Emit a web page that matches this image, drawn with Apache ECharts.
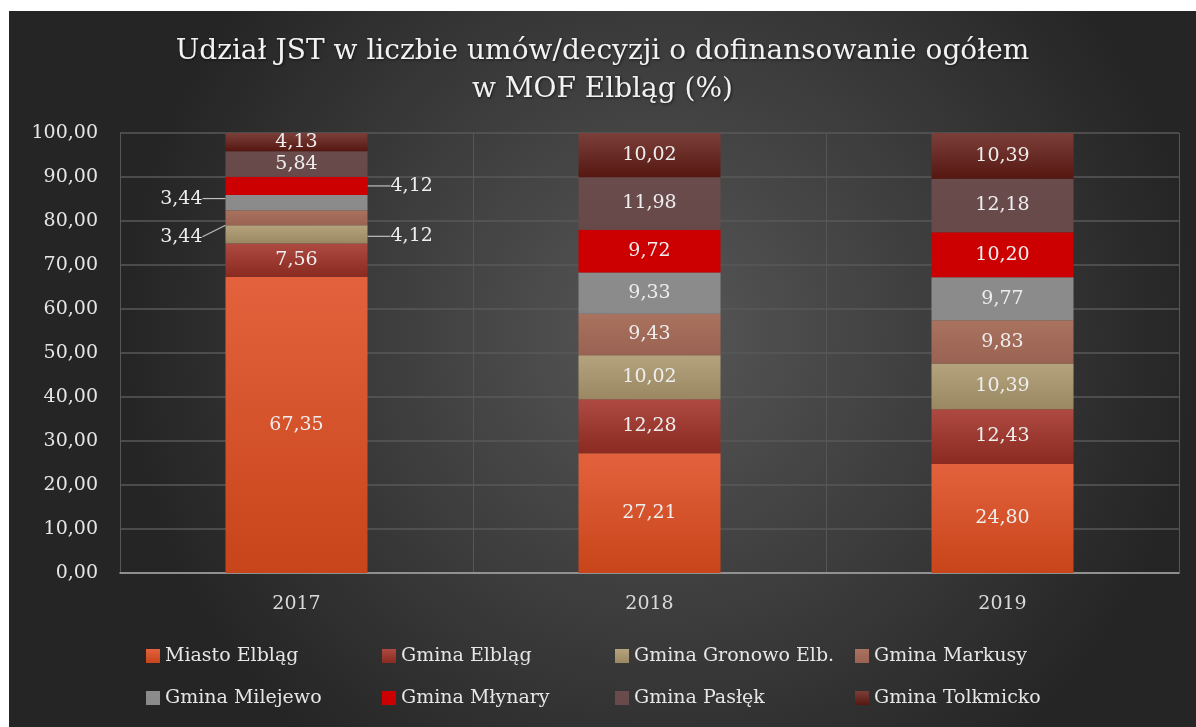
<!DOCTYPE html>
<html>
<head>
<meta charset="utf-8">
<script src="https://cdn.jsdelivr.net/npm/echarts@6/dist/echarts.min.js"></script>
<style>
html,body{margin:0;padding:0;background:#fff;}
#chart{position:absolute;left:9px;top:11px;width:1187px;height:716px;}
</style>
</head>
<body>
<div id="chart"></div>
<script>
var years = ["2017","2018","2019"];
var names = ["Miasto Elbląg","Gmina Elbląg","Gmina Gronowo Elb.","Gmina Markusy",
             "Gmina Milejewo","Gmina Młynary","Gmina Pasłęk","Gmina Tolkmicko"];
var miastoElblag = [67.35, 27.21, 24.80];
var gminaElblag = [7.56, 12.28, 12.43];
var gronowo = [4.12, 10.02, 10.39];
var markusy = [3.44, 9.43, 9.83];
var milejewo = [3.44, 9.33, 9.77];
var mlynary = [4.12, 9.72, 10.20];
var paslek = [5.84, 11.98, 12.18];
var tolkmicko = [4.13, 10.02, 10.39];
var yTicks = [0,10,20,30,40,50,60,70,80,90,100];

var allValues = [miastoElblag, gminaElblag, gronowo, markusy, milejewo, mlynary, paslek, tolkmicko];

/*kolory segmentów (góra, dół)*/
var colors = [
    ["#e3623d","#c8441a"],
    ["#ae4a42","#8a2a20"],
    ["#b5a37e","#9a8862"],
    ["#a9735f","#9a6252"],
    ["#8c8c8c","#8a8a8a"],
    ["#cc0000","#cc0000"],
    ["#6a4c4c","#674949"],
    ["#7b3f39","#561711"]
];

function fmt(v){
    return v.toFixed(2).replace(".", ",");
}

/*etykiety poza słupkiem dla 2017*/
var outside = {
    2: {pos:"right", dy:2},
    3: {pos:"left", dy:19},
    4: {pos:"left", dy:-4},
    5: {pos:"right", dy:0}
};

var series = [];
for (var i = 0; i < names.length; i++) {
    var data = [];
    for (var j = 0; j < years.length; j++) {
        var item = {value: allValues[i][j]};
        if (j == 0 && outside[i]) {
            item.label = {position: outside[i].pos, distance: 23};
            item.labelLine = {show: true, lineStyle: {color: "#bfbfbf", width: 1.2}};
        }
        data.push(item);
    }
    (function(idx){
        series.push({
            name: names[idx],
            type: "bar",
            stack: "total",
            barWidth: 142,
            data: data,
            itemStyle: {
                color: new echarts.graphic.LinearGradient(0,0,0,1,[
                    {offset:0, color: colors[idx][0]},
                    {offset:1, color: colors[idx][1]}
                ])
            },
            label: {
                show: true,
                position: "inside",
                color: "#eeeeee",
                fontFamily: "DejaVu Serif",
                fontSize: 19,
                formatter: function(p){ return fmt(p.value); }
            },
            labelLine: {show: false},
            labelLayout: function(p){
                if (p.dataIndex == 0 && outside[idx]) {
                    return {dy: outside[idx].dy};
                }
                return {};
            },
            emphasis: {disabled: true}
        });
    })(i);
}

var legends = [];
var legendCols = [137, 373, 606, 846];
for (var c = 0; c < 4; c++) {
    legends.push({
        orient: "vertical",
        left: legendCols[c],
        top: 634,
        padding: 0,
        itemGap: 20,
        itemWidth: 14,
        itemHeight: 14,
        icon: "rect",
        data: [names[c], names[c + 4]],
        textStyle: {
            color: "#e6e6e6",
            fontFamily: "DejaVu Serif",
            fontSize: 19,
            lineHeight: 22
        }
    });
}

var chart = echarts.init(document.getElementById("chart"));
var option = {
    animation: false,
    backgroundColor: new echarts.graphic.RadialGradient(0.55, 0.45, 0.75, [
        {offset:0, color:"#575757"},
        {offset:1, color:"#252525"}
    ]),
    title: {
        text: "Udział JST w liczbie umów/decyzji o dofinansowanie ogółem\nw MOF Elbląg (%)",
        left: "center",
        top: 17,
        textStyle: {
            color: "#f2f2f2",
            fontFamily: "DejaVu Serif",
            fontWeight: "normal",
            fontSize: 28,
            lineHeight: 38,
            textShadowColor: "rgba(0,0,0,0.6)",
            textShadowBlur: 3,
            textShadowOffsetX: 1,
            textShadowOffsetY: 1
        }
    },
    legend: legends,
    grid: {left: 111, right: 17, top: 122, bottom: 154},
    xAxis: {
        type: "category",
        data: years,
        axisLine: {lineStyle: {color: "#a6a6a6", width: 1.5}},
        axisTick: {show: false},
        splitLine: {show: true, lineStyle: {color: "#565656", width: 1}},
        axisLabel: {
            color: "#d9d9d9",
            fontFamily: "DejaVu Serif",
            fontSize: 19,
            margin: 22
        }
    },
    yAxis: {
        type: "value",
        min: yTicks[0],
        max: yTicks[yTicks.length - 1],
        interval: yTicks[1] - yTicks[0],
        axisLine: {show: false},
        axisTick: {show: false},
        splitLine: {lineStyle: {color: "#595959", width: 1.5}},
        axisLabel: {
            color: "#e6e6e6",
            fontFamily: "DejaVu Serif",
            fontSize: 19,
            margin: 22,
            formatter: function(v){ return fmt(v); }
        }
    },
    series: series
};
chart.setOption(option);
</script>
</body>
</html>
